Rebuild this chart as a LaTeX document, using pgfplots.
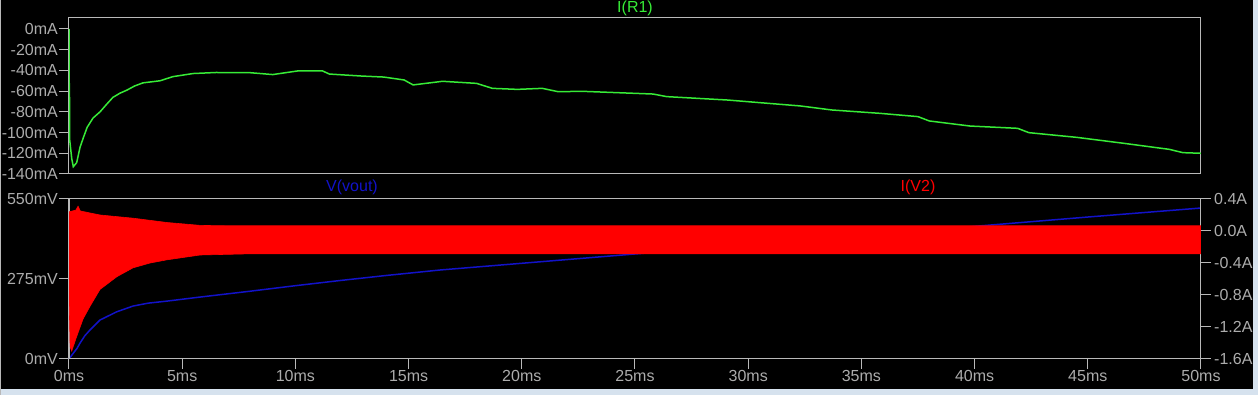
\documentclass[border=0pt]{standalone}
\usepackage{fontspec}
\setmainfont{Liberation Sans}
\usepackage{pgfplots}
\pgfplotsset{compat=1.18}
\definecolor{fr}{RGB}{185,185,185}
\definecolor{lab}{RGB}{172,172,172}
\definecolor{tgreen}{RGB}{55,235,55}
\definecolor{tblue}{RGB}{18,18,200}
\definecolor{tred}{RGB}{255,0,0}
\definecolor{winb}{RGB}{214,226,238}
\pgfplotsset{
  ltspice/.style={
    scale only axis, width=1132pt, xmin=0, xmax=50,
    axis line style={fr, line width=1pt},
    tick style={fr, line width=1pt},
    tick align=outside, major tick length=10pt,
    ticklabel style={lab, font=\fontsize{16}{18}\selectfont},
    axis background/.style={fill=none},
    clip=true,
  }
}
\begin{document}
\begin{tikzpicture}[x=1pt,y=1pt]
\fill[black] (0,0) rectangle (1258,395);
\path[use as bounding box] (0,0) rectangle (1258,395);
\fill[winb] (0,0) rectangle (1258,6);
\fill[winb] (1253,0) rectangle (1258,395);
\fill[fr] (0,0) rectangle (1,395);

% top pane
\begin{axis}[ltspice, at={(69pt,221pt)}, anchor=south west, height=156pt,
  ymin=-140, ymax=10.62, xtick=\empty,
  ytick={-140,-120,-100,-80,-60,-40,-20,0},
  yticklabels={-140mA,-120mA,-100mA,-80mA,-60mA,-40mA,-20mA,0mA},
  ytick pos=left, yticklabel style={inner sep=1pt}]
\addplot[tgreen, line width=1.5pt] coordinates {
(0,0) (0.01,-52) (0.02,-55) (0.03,-107) (0.12,-125) (0.19,-133) (0.34,-129)
(0.49,-114) (0.65,-104) (0.8,-95) (1.06,-86) (1.37,-80) (1.65,-73) (1.94,-66)
(2.25,-62) (2.56,-59) (2.9,-55) (3.27,-52) (4.02,-50) (4.59,-46) (5.48,-43)
(6.5,-42) (8.0,-42.2) (9.0,-44) (10.1,-40.5) (11.2,-40.5) (11.5,-43.5)
(12.9,-45.4) (13.9,-46.4) (14.8,-49.2) (15.2,-54) (16.5,-50.5) (18.0,-52.5)
(18.7,-57.3) (19.8,-58.3) (20.9,-57.3) (21.6,-60.5) (22.7,-60.2) (25.8,-62.8)
(26.4,-65.3) (29.1,-68.6) (30.5,-71.1) (32.3,-74.3) (33.7,-78.2) (35.8,-81.4)
(37.5,-84.6) (38.0,-88.8) (39.8,-93.7) (41.9,-95.9) (42.4,-100.1) (44.5,-104.6)
(46.6,-110.4) (48.6,-116.2) (49.2,-119.4) (50,-120)
};
\end{axis}

% bottom pane, left axis
\begin{axis}[ltspice, at={(69pt,36pt)}, anchor=south west, height=160pt,
  ymin=0, ymax=550, ytick={0,275,550}, yticklabels={0mV,275mV,550mV},
  ytick pos=left, yticklabel style={inner sep=1pt},
  xtick={0,5,10,15,20,25,30,35,40,45,50},
  xticklabels={0ms,5ms,10ms,15ms,20ms,25ms,30ms,35ms,40ms,45ms,50ms},
  xtick pos=lower, xticklabel style={inner sep=1pt}]
\addplot[tblue, line width=1.5pt] coordinates {
(0,0) (0.19,20) (0.35,36) (0.49,55) (0.7,80) (0.93,100) (1.37,134) (2.1,162)
(2.83,182) (3.5,192) (4.33,199) (5.8,213) (8,233) (10,252) (12,270) (14,287)
(16.4,306) (20,329) (25,361) (30,393) (35,424) (40,456) (45,488) (50,519)
};
\end{axis}

% bottom pane, right axis
\begin{axis}[ltspice, at={(69pt,36pt)}, anchor=south west, height=160pt,
  ymin=-1.6, ymax=0.4, xtick=\empty,
  ytick={-1.6,-1.2,-0.8,-0.4,0,0.4},
  yticklabels={-1.6A,-1.2A,-0.8A,-0.4A,0.0A,0.4A},
  ytick pos=right, yticklabel style={inner sep=3pt}]
\addplot[fill=tred, draw=tred, line width=0.6pt] coordinates {
(0,0.24) (0.3,0.26) (0.4,0.31) (0.5,0.25) (1.37,0.20) (2.83,0.16) (4.33,0.106)
(5.8,0.07) (7,0.065) (50,0.065)
(50,-0.285) (8,-0.285) (5.79,-0.30) (4.33,-0.36) (3.58,-0.40) (2.83,-0.46)
(2.12,-0.57) (1.37,-0.73) (0.93,-0.94) (0.62,-1.10) (0.35,-1.31) (0.12,-1.50)
(0.05,-1.45) (0,-0.8)
} -- cycle;
\end{axis}

\node[tgreen, font=\fontsize{16}{18}\selectfont] at (635,387) {I(R1)};
\node[tblue, font=\fontsize{16}{18}\selectfont] at (352,208) {V(vout)};
\node[tred, font=\fontsize{16}{18}\selectfont] at (918,208) {I(V2)};
\end{tikzpicture}
\end{document}
